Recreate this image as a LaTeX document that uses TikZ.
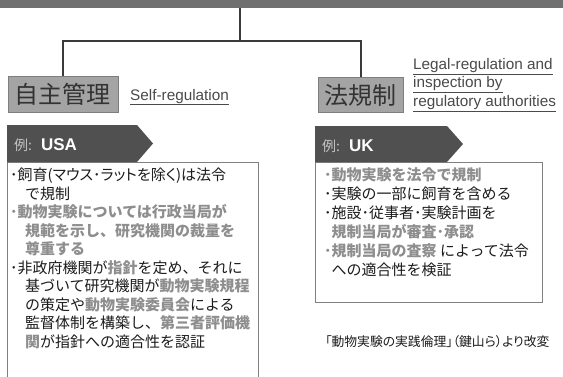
\documentclass[tikz,border=0pt]{standalone}
\usepackage{fontspec}
\setmainfont{Liberation Sans}
\newfontfamily\cjk{Noto Sans CJK JP}
\newfontfamily\cjkp[RawFeature=+palt]{Noto Sans CJK JP}
\definecolor{barcol}{HTML}{707070}
\definecolor{conncol}{HTML}{3A3A3A}
\definecolor{headfill}{HTML}{A4A4A4}
\definecolor{headdraw}{HTML}{7E7E7E}
\definecolor{headtext}{HTML}{333333}
\definecolor{labcol}{HTML}{4A4A4A}
\definecolor{bannercol}{HTML}{505050}
\definecolor{bannerlab}{HTML}{C4C4C4}
\definecolor{panelline}{HTML}{808080}
\definecolor{txtblack}{HTML}{1C1C1C}
\definecolor{hlgrey}{HTML}{8E8E8E}
\newcommand\hlg[1]{{\bfseries\color{hlgrey}#1}}
\newcommand\indl{\hspace*{15pt}}
\newcommand\indr{\hspace*{7.5pt}}
\tikzset{
  topbar/.style={fill=barcol, inner sep=0, minimum width=563pt, minimum height=8pt},
  conn/.style={draw=conncol, line width=2pt},
  headbox/.style={fill=headfill, draw=headdraw, line width=1pt, inner sep=0, text=headtext, font=\cjk\fontsize{24}{26}\selectfont},
  engl/.style={inner sep=0, text=labcol, align=left, font=\fontsize{15.3}{18.6}\selectfont},
  panel/.style={fill=white, draw=panelline, line width=1.3pt, inner sep=0},
  bannerbox/.style={fill=bannercol},
  bannertext/.style={inner sep=0, anchor=base west},
  txtl/.style={inner sep=0, align=left, text=txtblack, font=\cjk\fontsize{15}{18.5}\selectfont},
  txtr/.style={inner sep=0, align=left, text=txtblack, font=\cjk\fontsize{15}{19}\selectfont},
  captxt/.style={inner sep=0, text=txtblack, font=\cjkp\fontsize{12.8}{14}\selectfont}
}
\begin{document}
\begin{tikzpicture}[x=1pt,y=-1pt]
\clip (0,0) rectangle (563,376);
\fill[white] (0,0) rectangle (563,376);
% top bar and tree
\node[topbar, anchor=north west] (bar) at (0,0) {};
\coordinate (j) at (240,41);
\node[headbox, minimum width=110pt, minimum height=36pt] (lh) at (63,94) {自主管理};
\node[headbox, minimum width=85pt, minimum height=35pt] (rh) at (360.5,95) {法規制};
\draw[conn] (bar.south -| j) -- (j);
\draw[conn] (lh.north) |- (j) -| (rh.north);
% english labels
\node[engl, anchor=base west] (lself) at (130,100) {\underline{Self-regulation}};
\node[engl, anchor=north west] (llegal) at (413,58) {\underline{Legal-regulation and}\\\underline{inspection by}\\\underline{regulatory authorities}};
% panels
\node[panel, anchor=north west, minimum width=251pt, minimum height=220pt] (lbox) at (7,162) {};
\node[panel, anchor=north west, minimum width=227pt, minimum height=140pt] (rbox) at (315,162) {};
% banners
\fill[bannerbox] (7,125) -- (137,125) -- (153,143.5) -- (137,162) -- (7,162) -- cycle;
\fill[bannerbox] (315,126) -- (447,126) -- (463,144) -- (447,162) -- (315,162) -- cycle;
\node[bannertext] (lex) at (14,150) {{\cjk\fontsize{14}{16}\selectfont\color{bannerlab}例:}\hspace{9pt}{\fontsize{17}{18}\selectfont\bfseries\color{white}USA}};
\node[bannertext] (rex) at (322,151) {{\cjk\fontsize{14}{16}\selectfont\color{bannerlab}例:}\hspace{9pt}{\fontsize{17}{18}\selectfont\bfseries\color{white}UK}};
% panel texts
\node[txtl, anchor=north west] (ltext) at (10,168) {%
{\cjkp ･飼育(マウス･ラットを除く)は法令}\\
\indl で規制\\
\hlg{･動物実験については行政当局が}\\
\indl\hlg{規範を示し、研究機関の裁量を}\\
\indl\hlg{尊重する}\\
･非政府機関が\hlg{指針}を定め、それに\\
\indl 基づいて研究機関が\hlg{動物実験規程}\\
\indl の策定や\hlg{動物実験委員会}による\\
\indl 監督体制を構築し、\hlg{第三者評価機}\\
\indl\hlg{関}が指針への適合性を認証};
\node[txtr, anchor=north west] (rtext) at (324,167) {%
\hlg{･動物実験を法令で規制}\\
･実験の一部に飼育を含める\\
･施設･従事者･実験計画を\\
\indr\hlg{規制当局が審査･承認}\\
\hlg{･規制当局の査察} によって法令\\
\indr への適合性を検証};
% caption
\node[captxt, anchor=base west] (cap) at (325,346) {「動物実験の実践倫理」（鍵山ら）より改変};
\end{tikzpicture}
\end{document}
